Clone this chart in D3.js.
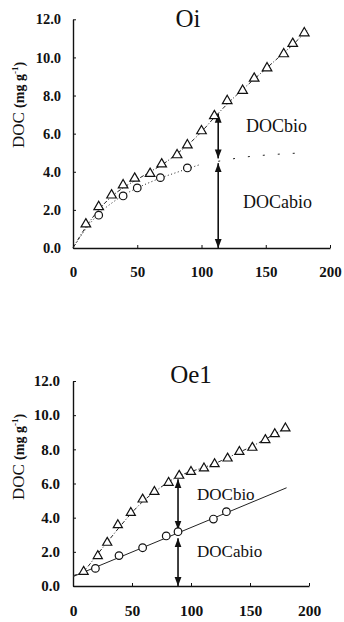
<!doctype html>
<html>
<head>
    <meta charset="utf-8">
    <style>
        body { margin: 0; background: #fff; }
        svg { display: block; }
        .axis path, .axis line { stroke: #111; }
        .fit { fill: none; stroke: #222; stroke-width: 1; }
        .mark { fill: #fff; stroke: #111; stroke-width: 1.2; }
        .lbl { font-family: "Liberation Serif", "Times New Roman", serif; fill: #111; }
    </style>
</head>
<body>
    <svg id="chart" width="344" height="622"></svg>
    <script src="https://cdnjs.cloudflare.com/ajax/libs/d3/7.8.5/d3.min.js"></script>
    <script>
        // values
        var xTicks = [0, 50, 100, 150, 200];
        var yTicks = [0, 2, 4, 6, 8, 10, 12];

        // Oi panel
        var oiTriX = [10, 20, 30, 39, 48, 60, 69, 81, 89, 100, 110, 120, 132, 141, 151, 164, 171, 180];
        var oiTriY = [1.25, 2.16, 2.77, 3.3, 3.65, 3.9, 4.4, 4.88, 5.4, 6.14, 6.93, 7.72, 8.26, 8.9, 9.44, 10.18, 10.72, 11.28];
        var oiCirX = [20, 39, 50, 68, 89];
        var oiCirY = [1.72, 2.73, 3.15, 3.69, 4.2];
        var oiTriFitX = [0, 10, 20, 30, 40, 50, 60, 70, 80, 90, 100, 110, 120, 130, 140, 150, 160, 170, 182];
        var oiTriFitY = [0, 1.1, 2.0, 2.7, 3.2, 3.6, 4.0, 4.4, 4.9, 5.45, 6.1, 6.85, 7.55, 8.2, 8.8, 9.4, 10.0, 10.6, 11.4];
        var oiCirFitX = [0, 10, 20, 30, 40, 50, 60, 70, 80, 90, 99];
        var oiCirFitY = [0, 1.0, 1.8, 2.35, 2.8, 3.15, 3.45, 3.72, 3.95, 4.18, 4.38];
        var oiCirExtX = [113, 135, 155, 175];
        var oiCirExtY = [4.55, 4.78, 4.9, 4.98];
        var oiArrowX = 113;
        var oiBio = [7.05, 4.7];
        var oiAbio = [4.45, 0];

        // Oe1 panel
        var oeTriX = [9, 21, 29, 38, 49, 59, 69, 81, 90, 100, 111, 120, 131, 141, 152, 163, 171, 180];
        var oeTriY = [0.84, 1.76, 2.54, 3.57, 4.29, 5.07, 5.52, 6.05, 6.46, 6.69, 6.89, 7.14, 7.47, 7.86, 8.1, 8.55, 8.9, 9.23];
        var oeCirX = [19, 39, 59, 79, 89, 119, 130];
        var oeCirY = [1.03, 1.78, 2.24, 2.93, 3.18, 3.92, 4.35];
        var oeTriFitX = [0, 10, 20, 30, 40, 50, 60, 70, 80, 90, 100, 110, 120, 130, 140, 150, 160, 170, 180];
        var oeTriFitY = [0.6, 0.95, 1.8, 2.65, 3.5, 4.3, 5.0, 5.55, 6.05, 6.45, 6.7, 6.92, 7.17, 7.47, 7.8, 8.12, 8.48, 8.86, 9.25];
        var oeCirFitX = [0, 181];
        var oeCirFitY = [0.55, 5.75];
        var oeArrowX = 89;
        var oeBio = [6.25, 3.3];
        var oeAbio = [2.8, 0];

        var svg = d3.select('#chart');

        var defs = svg.append('defs');
        defs.append('marker')
                .attr('id', 'head')
                .attr('viewBox', '0 0 10 10')
                .attr('refX', 10).attr('refY', 5)
                .attr('markerUnits', 'userSpaceOnUse')
                .attr('markerWidth', 9).attr('markerHeight', 9)
                .attr('orient', 'auto-start-reverse')
                .append('path')
                .attr('d', 'M0,1.2 L10,5 L0,8.8 z')
                .attr('fill', '#111');

        function zip(xs, ys) {
            return xs.map(function(v, i) { return [v, ys[i]]; });
        }

        function drawPanel(p) {
            var x = d3.scaleLinear().domain([0, 200]).range([p.left, p.right]);
            var y = d3.scaleLinear().domain([0, 12]).range([p.bottom, p.top]);
            var g = svg.append('g');

            var xAxis = g.append('g')
                    .attr('class', 'axis')
                    .attr('transform', 'translate(0,' + p.bottom + ')')
                    .call(d3.axisBottom(x).tickValues(xTicks).tickSize(-3).tickSizeOuter(0).tickPadding(p.xPad));
            xAxis.selectAll('text')
                    .style('font-family', '"Liberation Serif", serif')
                    .style('font-weight', 'bold')
                    .style('font-size', p.xFont + 'px')
                    .attr('fill', '#111');
            xAxis.select('.domain').attr('stroke-width', 1.4);

            var yAxis = g.append('g')
                    .attr('class', 'axis')
                    .attr('transform', 'translate(' + p.left + ',0)')
                    .call(d3.axisLeft(y).tickValues(yTicks).tickSize(-3).tickSizeOuter(0)
                            .tickPadding(p.yPad).tickFormat(d3.format('.1f')));
            yAxis.selectAll('text')
                    .style('font-family', '"Liberation Serif", serif')
                    .style('font-weight', 'bold')
                    .style('font-size', p.yFont + 'px')
                    .attr('fill', '#111');
            yAxis.select('.domain').attr('stroke-width', 1.4);

            var line = d3.line().x(function(d) { return x(d[0]); }).y(function(d) { return y(d[1]); });
            var curve = d3.line().curve(d3.curveMonotoneX)
                    .x(function(d) { return x(d[0]); }).y(function(d) { return y(d[1]); });

            // fitted lines
            g.append('path').attr('class', 'fit')
                    .attr('d', curve(zip(p.triFitX, p.triFitY)))
                    .attr('stroke-dasharray', '4,2,1,2');
            g.append('path').attr('class', 'fit')
                    .attr('d', (p.cirFitX.length > 2 ? curve : line)(zip(p.cirFitX, p.cirFitY)))
                    .attr('stroke-dasharray', p.cirDash);
            if (p.cirExtX) {
                g.append('path').attr('class', 'fit')
                        .attr('d', curve(zip(p.cirExtX, p.cirExtY)))
                        .attr('stroke-dasharray', '2,13');
            }

            // arrows
            [p.bio, p.abio].forEach(function(a) {
                g.append('line')
                        .attr('x1', x(p.arrowX)).attr('x2', x(p.arrowX))
                        .attr('y1', y(a[0])).attr('y2', y(a[1]))
                        .attr('stroke', '#111').attr('stroke-width', 1.6)
                        .attr('marker-start', 'url(#head)')
                        .attr('marker-end', 'url(#head)');
            });

            // markers
            var tri = d3.symbol().type(d3.symbolTriangle).size(p.triSize);
            g.selectAll('path.tri').data(zip(p.triX, p.triY)).enter()
                    .append('path').attr('class', 'mark tri')
                    .attr('d', tri)
                    .attr('transform', function(d) { return 'translate(' + x(d[0]) + ',' + y(d[1]) + ')'; });
            g.selectAll('circle.cir').data(zip(p.cirX, p.cirY)).enter()
                    .append('circle').attr('class', 'mark cir')
                    .attr('cx', function(d) { return x(d[0]); })
                    .attr('cy', function(d) { return y(d[1]); })
                    .attr('r', 3.8);

            // labels
            g.append('text').attr('class', 'lbl')
                    .attr('x', p.titleX).attr('y', p.titleY)
                    .attr('text-anchor', 'middle')
                    .style('font-size', p.titleFont + 'px')
                    .text(p.title);
            g.append('text').attr('class', 'lbl')
                    .attr('x', p.bioX).attr('y', p.bioY)
                    .style('font-size', p.tagFont + 'px')
                    .text('DOCbio');
            g.append('text').attr('class', 'lbl')
                    .attr('x', p.abioX).attr('y', p.abioY)
                    .style('font-size', p.tagFont + 'px')
                    .text('DOCabio');

            var yl = g.append('text').attr('class', 'lbl')
                    .attr('transform', 'translate(' + p.ylX + ',' + p.ylY + ') rotate(-90)')
                    .attr('text-anchor', 'middle');
            yl.append('tspan').style('font-size', '17px').text('DOC ');
            yl.append('tspan').style('font-size', '14px').style('font-weight', 'bold').text('(mg g');
            yl.append('tspan').style('font-size', '9px').style('font-weight', 'bold').attr('dy', -6).text('-1');
            yl.append('tspan').style('font-size', '14px').style('font-weight', 'bold').attr('dy', 6).text(')');
        }

        drawPanel({
            left: 73, right: 330, top: 19.3, bottom: 248,
            xPad: 18, yPad: 12, xFont: 15, yFont: 14.5,
            triX: oiTriX, triY: oiTriY, cirX: oiCirX, cirY: oiCirY,
            triFitX: oiTriFitX, triFitY: oiTriFitY,
            cirFitX: oiCirFitX, cirFitY: oiCirFitY, cirDash: '1,2.5',
            cirExtX: oiCirExtX, cirExtY: oiCirExtY,
            arrowX: oiArrowX, bio: oiBio, abio: oiAbio,
            triSize: 40,
            title: 'Oi', titleX: 188, titleY: 27, titleFont: 25,
            tagFont: 18, bioX: 246, bioY: 132, abioX: 243, abioY: 208,
            ylX: 24, ylY: 105
        });

        drawPanel({
            left: 73, right: 309, top: 381, bottom: 586,
            xPad: 19, yPad: 13, xFont: 15.5, yFont: 15,
            triX: oeTriX, triY: oeTriY, cirX: oeCirX, cirY: oeCirY,
            triFitX: oeTriFitX, triFitY: oeTriFitY,
            cirFitX: oeCirFitX, cirFitY: oeCirFitY, cirDash: null,
            cirExtX: null,
            arrowX: oeArrowX, bio: oeBio, abio: oeAbio,
            triSize: 36,
            title: 'Oe1', titleX: 191, titleY: 383, titleFont: 25,
            tagFont: 17, bioX: 197, bioY: 500, abioX: 197, abioY: 557,
            ylX: 24, ylY: 457
        });
    </script>
</body>
</html>
